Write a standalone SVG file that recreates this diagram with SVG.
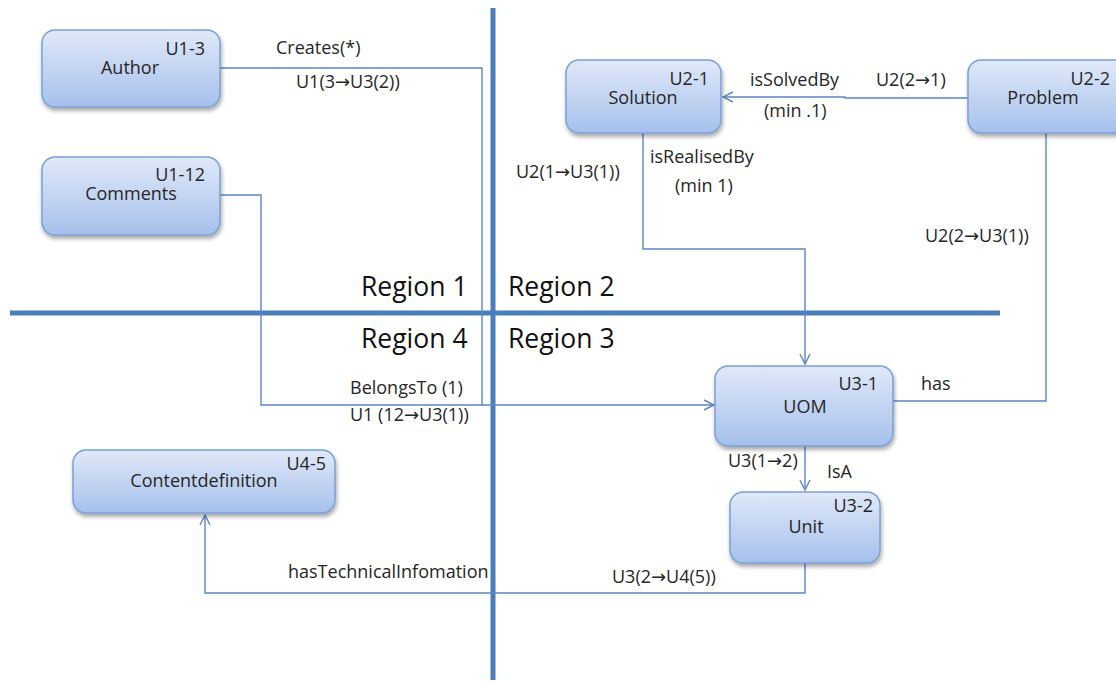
<svg xmlns="http://www.w3.org/2000/svg" width="1116" height="682" viewBox="0 0 1116 682">
<defs>
<linearGradient id="g" x1="0" y1="0" x2="0" y2="1">
<stop offset="0" stop-color="#e0e9f8"/>
<stop offset="1" stop-color="#a6c0ec"/>
</linearGradient>
<filter id="sh" x="-10%" y="-10%" width="130%" height="140%">
<feGaussianBlur in="SourceAlpha" stdDeviation="2"/>
<feOffset dx="1" dy="3"/>
<feComponentTransfer><feFuncA type="linear" slope="0.35"/></feComponentTransfer>
<feMerge><feMergeNode/><feMergeNode in="SourceGraphic"/></feMerge>
</filter>
<marker id="arr" viewBox="0 0 12 12" refX="11" refY="6" markerWidth="12" markerHeight="12" markerUnits="userSpaceOnUse" orient="auto">
<path d="M1,1 L11,6 L1,11" fill="none" stroke="#5b87c5" stroke-width="1.4"/>
</marker>
</defs>
<style>
.box{fill:url(#g);stroke:#7aa0d6;stroke-width:1.5;filter:url(#sh)}
text{font-family:"Open Sans","DejaVu Sans",sans-serif;fill:#262626}
.t{font-size:18px}
.c{font-size:18px;text-anchor:middle}
.r{font-size:18px;text-anchor:end}
.reg{font-size:26.5px;fill:#111}
.ln{fill:none;stroke:#5b87c5;stroke-width:1.4}
.div{stroke:#4a7ebb;stroke-width:5}
</style>
<rect width="1116" height="682" fill="#fff"/>
<g id="dividers">
<line class="div" x1="493" y1="8" x2="493" y2="680"/>
<line class="div" x1="10" y1="313" x2="1000" y2="313"/>
</g>
<g id="connectors">
<polyline class="ln" points="220,68 482,68 482,405"/>
<polyline class="ln" points="220,195 261,195 261,405 714,405" marker-end="url(#arr)"/>
<polyline class="ln" points="968,98 845,98 845,97 723,97" marker-end="url(#arr)"/>
<polyline class="ln" points="643,133 643,249 805,249 805,364" marker-end="url(#arr)"/>
<polyline class="ln" points="1046,133 1046,401 893,401"/>
<polyline class="ln" points="805,446 805,490" marker-end="url(#arr)"/>
<polyline class="ln" points="805,563 805,593 205,593 205,515" marker-end="url(#arr)"/>
</g>
<g id="labels">
<text class="t" x="276" y="54">Creates(*)</text>
<text class="t" x="296" y="88">U1(3→U3(2))</text>
<text class="t" x="750" y="86">isSolvedBy</text>
<text class="t" x="764" y="117">(min .1)</text>
<text class="t" x="876" y="86">U2(2→1)</text>
<text class="t" x="516" y="178">U2(1→U3(1))</text>
<text class="t" x="650" y="163">isRealisedBy</text>
<text class="t" x="675" y="192">(min 1)</text>
<text class="t" x="925" y="242">U2(2→U3(1))</text>
<text class="reg" x="361" y="296">Region 1</text>
<text class="reg" x="508" y="296">Region 2</text>
<text class="reg" x="361" y="348">Region 4</text>
<text class="reg" x="508" y="348">Region 3</text>
<text class="t" x="350" y="394">BelongsTo (1)</text>
<text class="t" x="350" y="421">U1 (12→U3(1))</text>
<text class="t" x="921" y="390">has</text>
<text class="t" x="728" y="467">U3(1→2)</text>
<text class="t" x="827" y="478">IsA</text>
<text class="t" x="288" y="578">hasTechnicalInfomation</text>
<text class="t" x="612" y="583">U3(2→U4(5))</text>
</g>
<g id="author">
<rect class="box" x="42" y="30" width="178" height="77" rx="13"/>
<text class="r" x="205" y="55">U1-3</text>
<text class="c" x="130" y="74">Author</text>
</g>
<g id="comments">
<rect class="box" x="42" y="157" width="178" height="78" rx="13"/>
<text class="r" x="205" y="181">U1-12</text>
<text class="c" x="131" y="200">Comments</text>
</g>
<g id="solution">
<rect class="box" x="566" y="60" width="155" height="73" rx="13"/>
<text class="r" x="709" y="85">U2-1</text>
<text class="c" x="643" y="104">Solution</text>
</g>
<g id="problem">
<rect class="box" x="968" y="60" width="160" height="73" rx="13"/>
<text class="r" x="1110" y="85">U2-2</text>
<text class="c" x="1043" y="104">Problem</text>
</g>
<g id="uom">
<rect class="box" x="715" y="366" width="178" height="80" rx="13"/>
<text class="r" x="878" y="390">U3-1</text>
<text class="c" x="805" y="413">UOM</text>
</g>
<g id="unit">
<rect class="box" x="730" y="492" width="150" height="71" rx="13"/>
<text class="r" x="873" y="512">U3-2</text>
<text class="c" x="806" y="533">Unit</text>
</g>
<g id="contentdefinition">
<rect class="box" x="73" y="450" width="262" height="63" rx="13"/>
<text class="r" x="326" y="470">U4-5</text>
<text class="c" x="204" y="487">Contentdefinition</text>
</g>
</svg>
